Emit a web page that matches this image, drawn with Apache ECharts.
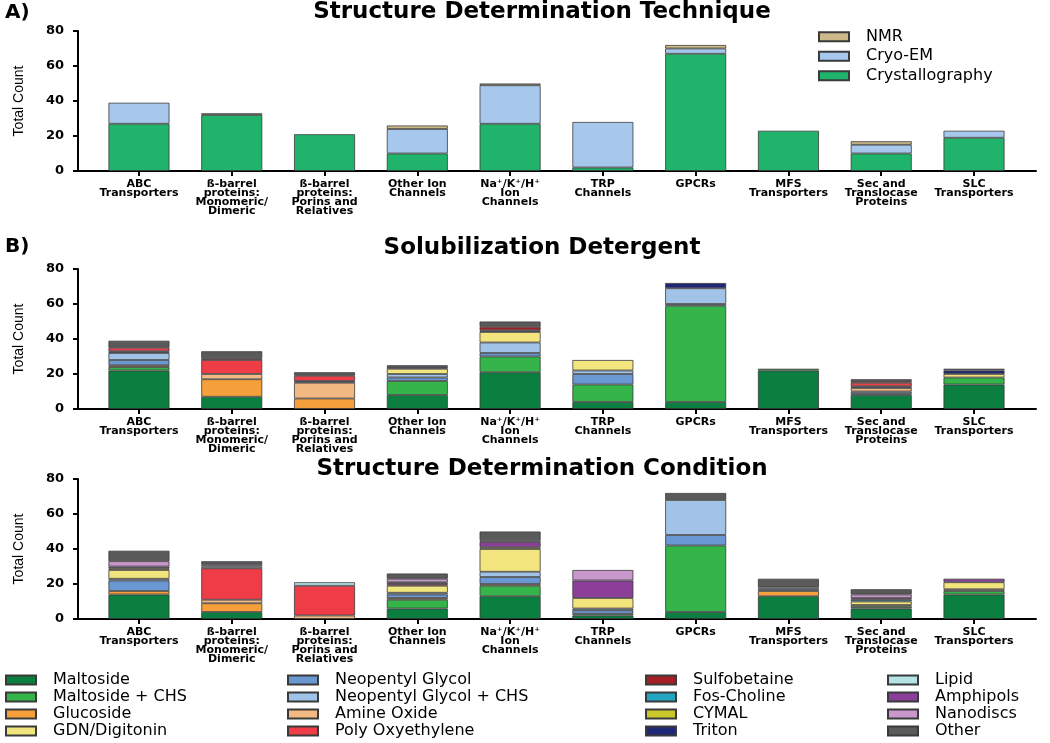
<!DOCTYPE html>
<html style="height: 100%">
<head>
<meta charset="utf-8">
<title>Membrane Protein Structures</title>
<script src="https://cdn.jsdelivr.net/npm/echarts@6.0.0/dist/echarts.min.js"></script>
</head>
<body style="height: 100%; margin: 0; background: #fff">
<div id="target" style="width: 1050px; height: 743px"></div>
<script>
const categories = [
    "ABC\nTransporters",
    "ß-barrel\nproteins:\nMonomeric/\nDimeric",
    "ß-barrel\nproteins:\nPorins and\nRelatives",
    "Other Ion\nChannels",
    "Na⁺/K⁺/H⁺\nIon\nChannels",
    "TRP\nChannels",
    "GPCRs",
    "MFS\nTransporters",
    "Sec and\nTranslocase\nProteins",
    "SLC\nTransporters",
];

// A) technique
const crystallography = [27, 32, 21, 10, 27, 2, 67, 23, 10, 19];
const cryoEM = [12, 0, 0, 14, 22, 26, 3, 0, 5, 4];
const nmr = [0, 1, 0, 2, 1, 0, 2, 0, 2, 0];

// B) solubilization detergent
const solMaltoside = [22, 7, 0, 8, 21, 4, 4, 22, 8, 14];
const solMaltosideChs = [2, 0, 0, 8, 9, 10, 55, 1, 0, 4];
const solGlucoside = [1, 10, 6, 0, 0, 0, 0, 0, 0, 0];
const solNeopentyl = [3, 0, 0, 2, 2, 6, 1, 0, 1, 0];
const solNeopentylChs = [4, 0, 0, 2, 6, 2, 9, 0, 1, 0];
const solAmineOxide = [0, 3, 9, 0, 0, 0, 0, 0, 2, 0];
const solGdn = [0, 0, 0, 3, 6, 6, 0, 0, 0, 2];
const solCymal = [0, 0, 0, 0, 0, 0, 0, 0, 0, 0];
const solTriton = [1, 0, 1, 1, 1, 0, 3, 0, 1, 2];
const solPoly = [2, 8, 3, 0, 0, 0, 0, 0, 2, 0];
const solSulfobetaine = [0, 1, 0, 0, 2, 0, 0, 0, 1, 0];
const solFosCholine = [0, 0, 0, 0, 0, 0, 0, 0, 0, 0];
const solLipid = [0, 0, 0, 0, 0, 0, 0, 0, 0, 0];
const solAmphipols = [0, 0, 0, 0, 0, 0, 0, 0, 0, 0];
const solNanodiscs = [0, 0, 0, 0, 0, 0, 0, 0, 0, 0];
const solOther = [4, 4, 2, 1, 3, 0, 0, 0, 1, 1];

// C) structure determination condition
const condMaltoside = [14, 4, 0, 6, 13, 2, 4, 13, 6, 14];
const condMaltosideChs = [0, 0, 0, 5, 6, 1, 38, 0, 1, 2];
const condGlucoside = [2, 5, 0, 1, 1, 0, 0, 3, 0, 0];
const condNeopentyl = [6, 0, 0, 2, 4, 2, 6, 1, 0, 0];
const condNeopentylChs = [1, 0, 0, 1, 3, 1, 20, 1, 0, 0];
const condAmineOxide = [0, 2, 2, 0, 0, 0, 0, 0, 1, 1];
const condGdn = [5, 0, 0, 4, 13, 6, 0, 0, 2, 4];
const condCymal = [1, 0, 0, 0, 1, 0, 0, 0, 0, 0];
const condTriton = [0, 0, 0, 0, 0, 0, 0, 0, 0, 0];
const condPoly = [0, 18, 17, 1, 0, 0, 0, 0, 0, 0];
const condSulfobetaine = [0, 0, 0, 0, 0, 0, 0, 0, 0, 0];
const condFosCholine = [0, 0, 0, 0, 0, 0, 0, 0, 1, 0];
const condLipid = [0, 1, 2, 0, 0, 0, 0, 0, 0, 0];
const condAmphipols = [1, 0, 0, 1, 3, 10, 0, 0, 1, 2];
const condNanodiscs = [3, 1, 0, 2, 1, 6, 0, 0, 2, 0];
const condOther = [6, 2, 0, 3, 5, 0, 4, 5, 3, 0];

// stack order, bottom to top
const stackNames = ["Maltoside", "Maltoside + CHS", "Glucoside", "Neopentyl Glycol",
    "Neopentyl Glycol + CHS", "Amine Oxide", "GDN/Digitonin", "CYMAL", "Triton",
    "Poly Oxyethylene", "Sulfobetaine", "Fos-Choline", "Lipid", "Amphipols", "Nanodiscs", "Other"];
const stackColors = ["#0b7f3f", "#35b44a", "#f6a03c", "#6a98d3",
    "#a2c3e8", "#f3b982", "#f3e57d", "#c9c72c", "#1f2777",
    "#ee3d46", "#a51e25", "#22a6c2", "#b3e3e5", "#8b3f99", "#c897cb", "#5a5a5a"];
const solSets = [solMaltoside, solMaltosideChs, solGlucoside, solNeopentyl, solNeopentylChs,
    solAmineOxide, solGdn, solCymal, solTriton, solPoly, solSulfobetaine, solFosCholine,
    solLipid, solAmphipols, solNanodiscs, solOther];
const condSets = [condMaltoside, condMaltosideChs, condGlucoside, condNeopentyl, condNeopentylChs,
    condAmineOxide, condGdn, condCymal, condTriton, condPoly, condSulfobetaine, condFosCholine,
    condLipid, condAmphipols, condNanodiscs, condOther];

const legendColumns = [
    ["Maltoside", "Maltoside + CHS", "Glucoside", "GDN/Digitonin"],
    ["Neopentyl Glycol", "Neopentyl Glycol + CHS", "Amine Oxide", "Poly Oxyethylene"],
    ["Sulfobetaine", "Fos-Choline", "CYMAL", "Triton"],
    ["Lipid", "Amphipols", "Nanodiscs", "Other"],
];

const boldFont = "DejaVu Sans";
const catTicks = categories.map((c, i) => i);
const gridTops = [31, 269, 479];

let chart = echarts.init(document.getElementById("target"));

function xAxisFor(idx)
{
    return {
        gridIndex: idx,
        type: "value",
        min: -0.657,
        max: 9.668,
        splitLine: { show: false },
        axisLine: { show: true, onZero: false, lineStyle: { color: "#000", width: 2 } },
        axisTick: { show: true, customValues: catTicks, length: 5, lineStyle: { color: "#000", width: 2 } },
        axisLabel: {
            customValues: catTicks,
            formatter: v => categories[Math.round(v)],
            fontFamily: boldFont,
            fontWeight: "bold",
            fontSize: 11,
            lineHeight: 9,
            color: "#000",
            margin: 9,
            hideOverlap: false,
        },
    };
}

function yAxisFor(idx)
{
    return {
        gridIndex: idx,
        type: "value",
        min: 0,
        max: 80,
        interval: 20,
        name: "Total Count",
        nameLocation: "middle",
        nameGap: 52,
        nameRotate: 90,
        nameTextStyle: {
            fontFamily: "Liberation Sans Narrow, Liberation Sans",
            fontSize: 14,
            color: "#000",
        },
        splitLine: { show: false },
        axisLine: { show: true, onZero: false, lineStyle: { color: "#000", width: 2 } },
        axisTick: { show: true, length: 5, lineStyle: { color: "#000", width: 2 } },
        axisLabel: {
            fontFamily: boldFont,
            fontWeight: "bold",
            fontSize: 13,
            color: "#000",
            margin: 14,
        },
    };
}

// value first so the stack runs along y
function barSeries(name, values, color, idx, stackId)
{
    return {
        name: name,
        type: "bar",
        xAxisIndex: idx,
        yAxisIndex: idx,
        stack: stackId,
        barWidth: 61,
        encode: { x: 1, y: 0 },
        data: values.map((v, i) => [v === 0 ? null : v, i]),
        itemStyle: { color: color, borderColor: "#3a3a3a", borderWidth: 0.8 },
        emphasis: { disabled: true },
    };
}

let series = [
    barSeries("Crystallography", crystallography, "#20b36b", 0, "tech"),
    barSeries("Cryo-EM", cryoEM, "#a7c8ec", 0, "tech"),
    barSeries("NMR", nmr, "#cdb98a", 0, "tech"),
];
stackNames.forEach((n, k) => series.push(barSeries(n, solSets[k], stackColors[k], 1, "sol")));
stackNames.forEach((n, k) => series.push(barSeries(n, condSets[k], stackColors[k], 2, "cond")));

const legendText = {
    fontFamily: "DejaVu Sans",
    fontSize: 16,
    color: "#000",
    padding: [0, 0, 0, 12],
};

let legends = [
    {
        data: ["NMR", "Cryo-EM", "Crystallography"],
        orient: "vertical",
        left: 818,
        top: 27,
        padding: 0,
        itemGap: 0,
        itemWidth: 30,
        itemHeight: 9,
        icon: "rect",
        selectedMode: false,
        textStyle: Object.assign({ lineHeight: 19.5 }, legendText),
    },
];
const legendLefts = [5, 287, 645, 887];
legendColumns.forEach((col, c) => legends.push({
    data: col,
    orient: "vertical",
    left: legendLefts[c],
    top: 671.5,
    padding: 0,
    itemGap: 0,
    itemWidth: 30,
    itemHeight: 9,
    icon: "rect",
    selectedMode: false,
    textStyle: Object.assign({ lineHeight: 17 }, legendText),
}));

const titleStyle = { fontFamily: boldFont, fontWeight: "bold", fontSize: 23, color: "#000" };

let option = {
    animation: false,
    backgroundColor: "#fff",
    title: [
        { text: "Structure Determination Technique", left: 542, top: 1, textAlign: "center", padding: 0, textStyle: titleStyle },
        { text: "Solubilization Detergent", left: 542, top: 237, textAlign: "center", padding: 0, textStyle: titleStyle },
        { text: "Structure Determination Condition", left: 542, top: 458, textAlign: "center", padding: 0, textStyle: titleStyle },
        { text: "A)", left: 5, top: 3, padding: 0, textStyle: Object.assign({}, titleStyle, { fontSize: 20 }) },
        { text: "B)", left: 5, top: 237, padding: 0, textStyle: Object.assign({}, titleStyle, { fontSize: 20 }) },
    ],
    legend: legends,
    grid: gridTops.map(t => ({ left: 78, right: 14, top: t, height: 140, containLabel: false, outerBoundsMode: "none" })),
    xAxis: gridTops.map((t, i) => xAxisFor(i)),
    yAxis: gridTops.map((t, i) => yAxisFor(i)),
    series: series,
};

chart.setOption(option);
</script>
</body>
</html>
